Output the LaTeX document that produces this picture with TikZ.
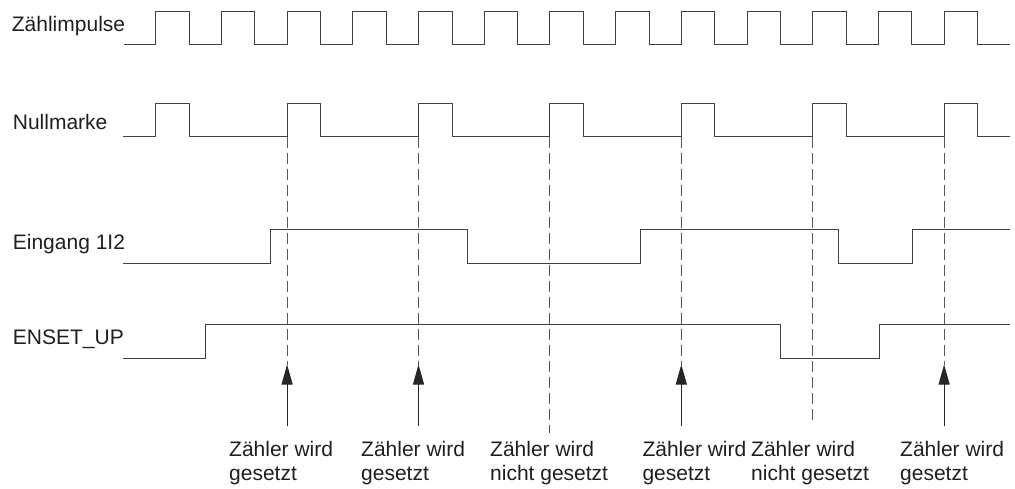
\documentclass[tikz,border=0pt]{standalone}
\usepackage{fontspec}
\setmainfont{Liberation Sans}
\usetikzlibrary{arrows.meta}
\begin{document}
\begin{tikzpicture}[x=1pt,y=-1pt,
  signame/.style={anchor=base west,inner sep=0pt,text=black!88,
    font=\fontsize{21}{23.3}\selectfont},
  note/.style={anchor=base west,inner sep=0pt,align=left,text=black!88,
    font=\fontsize{21}{23.3}\selectfont},
  wave/.style={line width=1pt,black!75,line join=miter},
  guide/.style={line width=0.9pt,black!65,dash pattern=on 11pt off 5pt},
  marker/.style={line width=1pt,black!85,-{Triangle[length=20pt,width=11pt]}},
]
\useasboundingbox (0,0) rectangle (1015,488);

% signal names
\node[signame] (lz) at (11.7,31.7) {Zählimpulse};
\node[signame] (ln) at (12.7,129) {Nullmarke};
\node[signame] (le) at (12.7,249) {Eingang 1I2};
\node[signame] (lu) at (12.7,344) {ENSET\_UP};

% counting pulses
\draw[wave] (124,44.3)
  \foreach \k in {0,...,12}{
    -- ({155.7+65.7*\k},44.3) -- ++(0,-33.3) -- ++(33.5,0) -- ++(0,33.3)
  } -- (1010,44.3);

% zero mark, every second pulse
\draw[wave] (123,136.7)
  \foreach \k in {0,2,...,12}{
    -- ({155.7+65.7*\k},136.7) -- ++(0,-33.4) -- ++(33.5,0) -- ++(0,33.4)
  } -- (1010,136.7);

% input 1I2
\draw[wave] (122.7,263.3) -- (270.7,263.3) -- (270.7,229.7) -- (467.7,229.7)
  -- (467.7,263.3) -- (640,263.3) -- (640,229.7) -- (838.3,229.7)
  -- (838.3,263.3) -- (912.7,263.3) -- (912.7,229.7) -- (1010,229.7);

% ENSET_UP
\draw[wave] (123,358) -- (205.3,358) -- (205.3,324.3) -- (780,324.3)
  -- (780,358) -- (879,358) -- (879,324.3) -- (1010,324.3);

% guide lines from the zero-mark edges
\foreach \i/\x in {1/287.1,2/418.5,3/549.9,4/681.3,5/812.7,6/944.1}{
  \coordinate (g\i) at (\x,136.7);
}
\foreach \i/\x in {1/287.1,2/418.5,4/681.3,6/944.1}{
  \coordinate (t\i) at (\x,364.5);
  \coordinate (s\i) at (\x,426);
  \draw[guide] (g\i) -- (t\i);
  \draw[marker] (s\i) -- (t\i);
}
\coordinate (e3) at (549.9,433);
\coordinate (e5) at (812.7,420);
\draw[guide] (g3) -- (e3);
\draw[guide] (g5) -- (e5);

% notes (anchored at the baseline of their last line)
\node[note] (c1) at (229,480) {Zähler wird\\gesetzt};
\node[note] (c2) at (361,480) {Zähler wird\\gesetzt};
\node[note] (c3) at (490,480) {Zähler wird\\nicht gesetzt};
\node[note] (c4) at (642.3,480) {Zähler wird\\gesetzt};
\node[note] (c5) at (751,480) {Zähler wird\\nicht gesetzt};
\node[note] (c6) at (900,480) {Zähler wird\\gesetzt};
\end{tikzpicture}
\end{document}
